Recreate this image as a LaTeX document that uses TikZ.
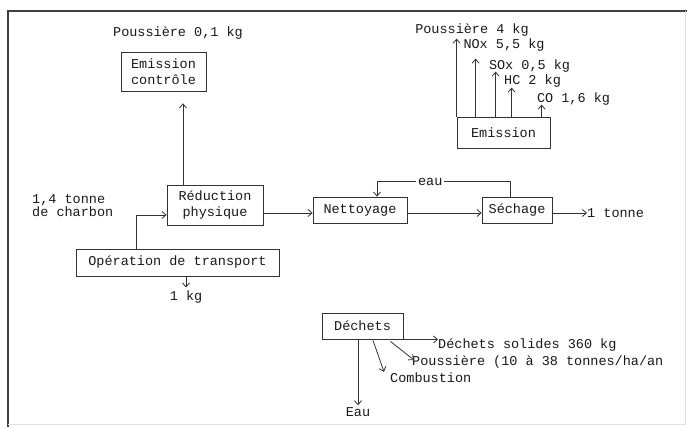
\documentclass[tikz,border=0pt]{standalone}
\usepackage{fontspec}
\setmainfont{Liberation Mono}
\usetikzlibrary{arrows.meta,calc}

\tikzset{
  box/.style={draw=black!80, line width=0.8pt, inner sep=0pt, align=center},
  lbl/.style={inner sep=0pt},
  flow/.style={draw=black!80, line width=0.8pt, -{Straight Barb[length=4pt,width=7pt]}},
}

\begin{document}
\begin{tikzpicture}[x=1pt,y=-1pt,
  every node/.style={font=\fontsize{13.5}{16}\selectfont, text=black!90}]
\useasboundingbox (0,0) rectangle (687,427);
% cadre
\draw [line width=1.3pt, black!75] (8,427) -- (8,11) -- (687,11);
\draw [black!12] (685,11) -- (685,424) -- (8,424);

% boites
\node [box, minimum width=85pt, minimum height=39pt] (emisc) at (163.5,71.5) {Emission\\contrôle};
\node [box, minimum width=96pt, minimum height=40pt] (reduc) at (215,205) {Réduction\\physique};
\node [box, minimum width=203pt, minimum height=27pt] (transp) at (177.5,262.5) {Opération de transport};
\node [box, minimum width=94pt, minimum height=26pt] (nett) at (360,210) {Nettoyage};
\node [box, minimum width=70pt, minimum height=26pt] (sech) at (517,210) {Séchage};
\node [box, minimum width=93pt, minimum height=31pt] (emi) at (503.5,132.5) {Emission};
\node [box, minimum width=81pt, minimum height=26pt] (dech) at (362.5,326) {Déchets};

% textes
\node [lbl] (p01) at (178,33) {Poussière 0,1 kg};
\node [lbl, anchor=west, align=left] (charbon) at (32,206) {1,4 tonne\\[-3pt]de charbon};
\node [lbl] (kg1) at (186,297) {1 kg};
\node [lbl, anchor=west] (tonne) at (587,213) {1 tonne};
\node [lbl] (pous4) at (472,30) {Poussière 4 kg};
\node [lbl] (nox) at (504,45) {NOx 5,5 kg};
\node [lbl] (sox) at (529.5,66) {SOx 0,5 kg};
\node [lbl] (hc) at (532.5,81) {HC 2 kg};
\node [lbl] (co) at (573.5,99) {CO 1,6 kg};
\node [lbl, anchor=west] (solides) at (438,345) {Déchets solides 360 kg};
\node [lbl, anchor=west] (pous) at (412,362) {Poussière (10 à 38 tonnes/ha/an};
\node [lbl, anchor=west] (comb) at (390,378) {Combustion};
\node [lbl] (eau2) at (358,412) {Eau};

% fleches
\draw [flow, shorten >=12pt] ($(reduc.north)+(-32,0)$) -- ($(emisc.south)+(19.5,0)$);
\draw [flow] ($(transp.north)+(-41.5,0)$) |- ($(reduc.west)+(0,10)$);
\draw [flow] (transp.south -| kg1) -- ($(kg1.north)+(0,-3)$);
\draw [flow] ($(reduc.east)+(0,8)$) -- ($(nett.west)+(0,3)$);
\draw [flow] ($(nett.east)+(0,3)$) -- ($(sech.west)+(0,3)$);
\draw [flow] ($(sech.east)+(0,3)$) -- (tonne.west);
\draw [flow] ($(sech.north)+(-7,0)$) -- ++(0,-15) -| node[pos=0.3, fill=white, inner sep=2pt] {eau} ($(nett.north)+(17,0)$);

% emissions
\draw [flow] (emi.north west) -- ++(0,-78);
\draw [flow] ($(emi.north west)+(19,0)$) -- ++(0,-58);
\draw [flow] ($(emi.north west)+(39,0)$) -- ++(0,-45);
\draw [flow] ($(emi.north west)+(55,0)$) -- ++(0,-29);
\draw [flow] ($(emi.north west)+(85,0)$) -- ++(0,-12);

% dechets
\draw [flow] (dech.south east) -- (dech.south east -| solides.west);
\draw [flow] ($(dech.south east)+(-13,2)$) -- ($(pous.west)+(2,-2)$);
\draw [flow] ($(dech.south)+(10.5,1)$) -- ($(comb.north west)+(-6,-1)$);
\draw [flow] (dech.south -| eau2) -- ($(eau2.north)+(0,-2)$);
\end{tikzpicture}
\end{document}
